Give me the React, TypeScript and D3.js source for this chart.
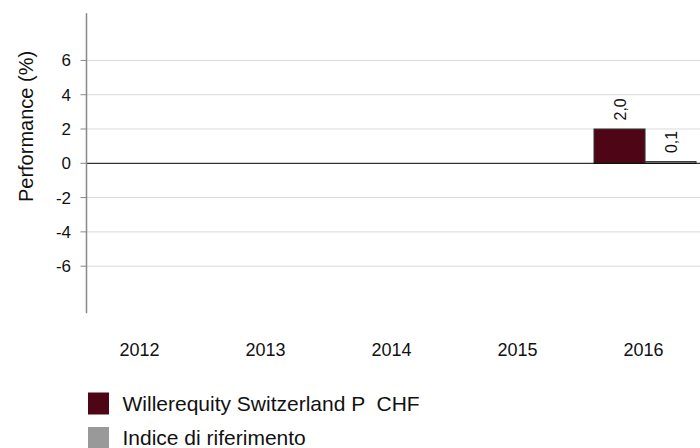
import React from "react";
import * as d3 from "d3";

const years = ["2012", "2013", "2014", "2015", "2016"];
const fundValues: (number | null)[] = [null, null, null, null, 2.0];
const indexValues: (number | null)[] = [null, null, null, null, 0.1];
const yTicks = [-6, -4, -2, 0, 2, 4, 6];
const seriesNames = ["Willerequity Switzerland P  CHF", "Indice di riferimento"];
const seriesColors = ["#4e0617", "#999999"];

const W = 700;
const H = 448;
const FONT = "'Liberation Sans', Arial, sans-serif";

export default function App() {
  const axisX = 86.5;
  const y = d3.scaleLinear().domain([-8.75, 8.75]).range([313.3, 13.3]);
  const x = d3
    .scaleBand<string>()
    .domain(years)
    .range([77.4, 708.66])
    .paddingInner(0.19)
    .paddingOuter(0.1);
  const inner = d3
    .scaleBand<string>()
    .domain(["fund", "index"])
    .range([0, x.bandwidth()]);
  const fmt = (v: number) => v.toFixed(1).replace(".", ",");
  const series = [fundValues, indexValues];
  const keys = ["fund", "index"];

  return (
    <div style={{ position: "fixed", left: 0, top: 0, width: W, height: H, background: "#fff" }}>
      <svg width={W} height={H} style={{ display: "block" }} fontFamily={FONT}>
        {/* gridlines */}
        {yTicks.filter((t) => t !== 0).map((t) => (
          <line key={t} x1={axisX} x2={W} y1={y(t)} y2={y(t)} stroke="#d9d9d9" strokeWidth={1} />
        ))}
        {/* bars */}
        {series.map((vals, si) =>
          vals.map((v, i) => {
            if (v === null) return null;
            const bx = (x(years[i]) as number) + (inner(keys[si]) as number);
            const top = y(Math.max(0, v));
            const h = Math.abs(y(v) - y(0));
            return (
              <g key={`${si}-${i}`}>
                <rect
                  x={bx}
                  y={top}
                  width={inner.bandwidth()}
                  height={Math.max(h, 0.5)}
                  fill={seriesColors[si]}
                  stroke="#333"
                  strokeWidth={1}
                />
                <text
                  transform={`translate(${bx + inner.bandwidth() / 2 + 6},${top - 8.5}) rotate(-90)`}
                  fontSize={16}
                  fill="#111"
                  textAnchor="start"
                >
                  {fmt(v)}
                </text>
              </g>
            );
          })
        )}
        {/* zero line */}
        <line x1={axisX} x2={W} y1={y(0)} y2={y(0)} stroke="#000" strokeWidth={1} />
        {/* y axis */}
        <line x1={axisX} x2={axisX} y1={y.range()[1]} y2={y.range()[0]} stroke="#888" strokeWidth={1.5} />
        {yTicks.map((t) => (
          <g key={t}>
            <line x1={axisX - 6} x2={axisX} y1={y(t)} y2={y(t)} stroke="#888" strokeWidth={1} />
            <text x={71} y={y(t)} dy="0.35em" textAnchor="end" fontSize={17} fill="#111">
              {t}
            </text>
          </g>
        ))}
        <text
          transform={`translate(33,126.5) rotate(-90)`}
          textAnchor="middle"
          fontSize={20}
          fill="#111"
        >
          Performance (%)
        </text>
        {/* x labels */}
        {years.map((yr) => (
          <text
            key={yr}
            x={(x(yr) as number) + x.bandwidth() / 2 - 1.5}
            y={356}
            textAnchor="middle"
            fontSize={18}
            fill="#111"
          >
            {yr}
          </text>
        ))}
        {/* legend */}
        {seriesNames.map((n, i) => (
          <g key={n} transform={`translate(88,${392.5 + i * 34.5})`}>
            <rect x={0} y={0} width={21} height={22} fill={seriesColors[i]} />
            <text x={34.5} y={18} fontSize={21} fill="#111" style={{ whiteSpace: "pre" }}>
              {n}
            </text>
          </g>
        ))}
      </svg>
    </div>
  );
}
